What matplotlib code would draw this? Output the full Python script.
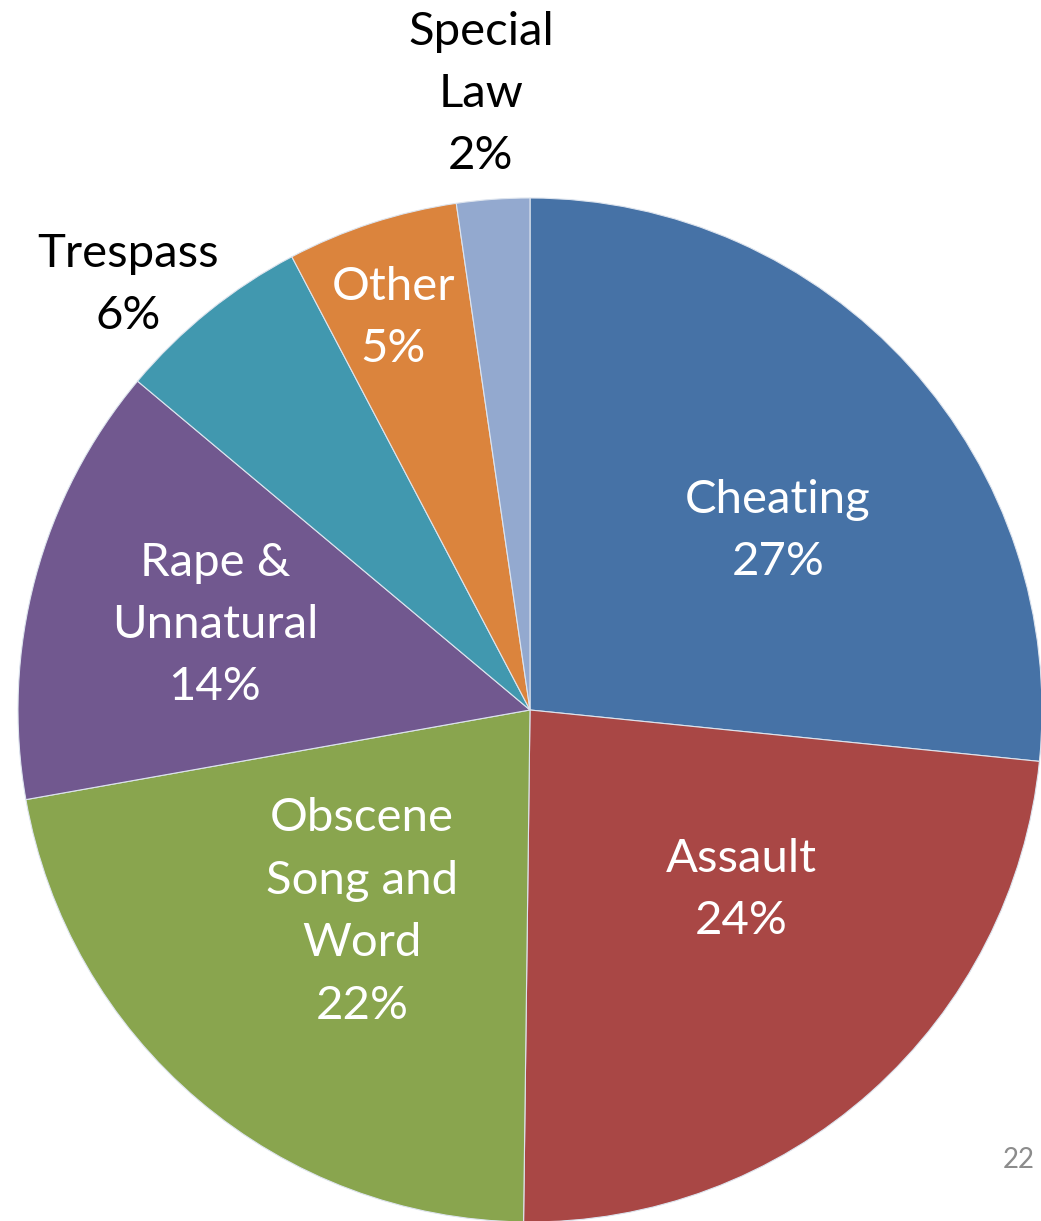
import matplotlib
matplotlib.use("Agg")
import matplotlib.pyplot as plt

## datos
categorias = ["Cheating", "Assault", "Obscene\nSong and\nWord", "Rape &\nUnnatural",
              "Trespass", "Other", "Special\nLaw"]
valores = [26.6, 23.6, 22.0, 13.9, 6.2, 5.4, 2.3]
porcentajes = ["27%", "24%", "22%", "14%", "6%", "5%", "2%"]
colores = ["#4672A6", "#A94745", "#89A54E", "#71588F", "#4198AF", "#DB843D", "#93A9CF"]

plt.rcParams['font.family'] = ['Lato', 'DejaVu Sans']

fig = plt.figure(figsize=(10.41, 12.21), dpi=100)
ax = fig.add_axes([0, 0, 1, 1])

## pie centrado en (0,0) con radio 1; px -> datos con 512 px por unidad
cx, cy, r = 530, 710, 512

wedges, _ = ax.pie(valores, colors=colores, startangle=90, counterclock=False,
                   radius=1, center=(0, 0), frame=True,
                   wedgeprops=dict(linewidth=0.8, edgecolor="#dde4ee"))
ax.set_xlim(-cx / r, (1041 - cx) / r)
ax.set_ylim((cy - 1221) / r, cy / r)
ax.axis("off")

## posiciones de las etiquetas en pixeles (centro del bloque de texto)
pos_px = [(778, 531), (741, 890), (362, 912), (215, 625), (128, 285), (393, 318), (481, 94)]
color_txt = ["white", "white", "white", "white", "black", "white", "black"]

for i in range(len(categorias)):
    px, py = pos_px[i]
    x = (px - cx) / r
    y = (cy - py) / r
    ax.text(x, y, categorias[i] + "\n" + porcentajes[i], ha="center", va="center",
            color=color_txt[i], fontsize=34, linespacing=1.6)

fig.text(1019 / 1041, 1 - 1160 / 1221, "22", ha="center", va="center",
         color="#8c8c8c", fontsize=20)

plt.savefig("out.png", dpi=100)
